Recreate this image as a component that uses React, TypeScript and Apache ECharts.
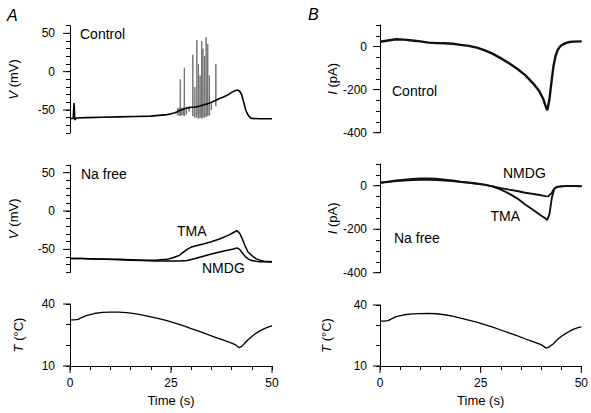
import React, { useEffect, useRef } from 'react';
import * as echarts from 'echarts';

const FONT = '"Liberation Sans", Arial, Helvetica, sans-serif';

// ---------- Panel A (top): Control membrane potential ----------
const ctlT = [0, 0.8, 1.0, 1.2, 1.6, 4, 8, 12, 16, 20, 22, 24, 25, 26, 27, 28, 29, 30, 31, 32, 33, 34, 35, 36, 37, 38, 39, 40, 41, 41.5, 42, 42.5, 43, 43.5, 44, 44.5, 45, 47, 50];
const ctlV = [-61, -61, -41, -63, -60.5, -60, -59.5, -59, -58.5, -58, -57, -56, -55, -53.5, -51, -49, -47.5, -46.5, -46, -45, -43.5, -42, -40, -37.5, -35, -33, -30.5, -27, -24.5, -24, -25.5, -30, -40, -50, -56, -59.5, -61, -61.5, -61.5];
// action potentials
const spikeT = [26.6, 27.0, 27.3, 27.7, 28.1, 28.3, 28.8, 29.5, 30.4, 30.9, 31.4, 31.8, 32.2, 32.6, 32.9, 33.3, 33.7, 34.1, 34.5, 35.0, 36.1];
const spikePeak = [-48, -47, -10, -47, -47, 5, -46, -45, 22, -20, 41, 10, -5, 40, 30, 20, 45, 36, -5, -40, 10];
const spikeTrough = [-57, -57, -58, -57, -57, -58, -56, -52, -58, -60, -60, -61, -60, -61, -60, -60, -59, -58, -57, -50, -45];

// ---------- Panel A (middle): Na free membrane potential ----------
const tmaT = [0, 3, 6, 9, 12, 15, 18, 21, 24, 25.5, 27, 28, 29, 30, 31, 33, 35, 37, 39, 40.5, 41.3, 42, 42.7, 43.3, 44, 45, 46, 47, 48, 50];
const tmaV = [-62, -62, -62.5, -63, -63, -63.5, -64, -64, -63, -61, -58, -54, -50, -47, -45.5, -43, -40, -36.5, -32, -28, -25.5, -29, -37, -45, -53, -58, -62, -64, -65.5, -66];
const nmdgT = [0, 3, 6, 9, 12, 15, 18, 21, 24, 27, 29, 31, 33, 35, 37, 39, 40.5, 41.3, 42, 42.7, 43.5, 44.3, 45, 46, 47, 48, 50];
const nmdgV = [-62, -62, -62.5, -63, -63.5, -64, -64.5, -65, -65, -65, -64.5, -62, -59, -56, -53.5, -51, -49.5, -48, -50, -55, -60, -63, -64.5, -65.5, -66, -66, -66.5];

// ---------- Temperature ----------
const tempAT = [0, 1, 2, 3, 4, 6, 8, 10, 12, 14, 16, 18, 20, 22, 24, 26, 28, 30, 32, 34, 36, 38, 40, 41, 41.8, 42.5, 43, 44, 45, 46, 47, 48, 49, 50];
const tempAV = [32.3, 32.3, 32.6, 33.5, 34.4, 35.4, 35.9, 36.1, 36.1, 35.8, 35.3, 34.6, 33.8, 32.9, 31.9, 30.8, 29.5, 28.1, 26.7, 25.3, 23.9, 22.5, 21.1, 20.2, 18.9, 19.5, 20.5, 22.6, 24.3, 25.8, 27, 28, 28.8, 29.4];
const tempBT = [0, 1, 2, 3, 4, 6, 8, 10, 12, 14, 16, 18, 20, 22, 24, 26, 28, 30, 32, 34, 36, 38, 40, 41.3, 42, 43, 44, 45, 46, 47, 48, 49, 50];
const tempBV = [32.1, 32.1, 32.3, 33.3, 34.3, 35.2, 35.6, 35.8, 35.9, 35.7, 35.2, 34.5, 33.6, 32.6, 31.6, 30.4, 29.1, 27.7, 26.3, 24.9, 23.4, 22, 20.5, 18.8, 19.4, 20.8, 22.9, 24.5, 25.8, 27, 28, 28.8, 29.3];

// ---------- Panel B (top): Control current ----------
const ctlIT = [0, 2, 4, 6, 8, 10, 12, 14, 16, 18, 20, 22, 24, 26, 28, 30, 32, 34, 36, 38, 39.5, 40.5, 41.2, 41.5, 42, 42.5, 43, 43.5, 44, 44.5, 45, 46, 47, 48, 50];
const ctlIV = [22, 28, 34, 32, 28, 24, 18, 16, 15, 13, 8, 3, -5, -18, -34, -55, -78, -103, -133, -172, -208, -245, -285, -295, -245, -165, -92, -45, -18, -3, 6, 16, 21, 23, 24];

// ---------- Panel B (middle): Na free current ----------
const tmaIT = [0, 2, 4, 6, 8, 10, 12, 14, 16, 18, 20, 22, 24, 26, 28, 30, 32, 34, 36, 38, 40, 41, 41.4, 42, 42.6, 43.2, 44, 45, 46, 48, 50];
const tmaIV = [14, 19, 24, 28, 31, 33, 34, 32, 28, 24, 19, 15, 10, 5, -4, -18, -36, -58, -86, -112, -138, -150, -158, -132, -55, -15, -4, -3, -2, -2, -3];
const nmdgIT = [0, 2, 4, 6, 8, 10, 12, 14, 16, 18, 20, 22, 24, 26, 28, 30, 32, 34, 36, 38, 40, 41, 41.7, 42.5, 43, 43.5, 44, 45, 46, 48, 50];
const nmdgIV = [14, 17, 21, 24, 26, 27, 27, 26, 24, 21, 17, 13, 9, 4, -3, -11, -18, -24, -32, -38, -44, -48, -49, -35, -18, -9, -5, -3, -2, -1, -2];

// ---------- Axis tick values ----------
const timeStep = 5;
const timeMajor = [0, 25, 50];
const vStep = 10;
const vMajor = [-50, 0, 50];
const iStep = 50;
const iMajor = [-400, -200, 0];
const tStep = 10;
const tMajor = [10, 40];

const zip = (t: number[], v: number[]) => t.map((x, i) => [x, v[i]]);

function spikePath() {
  const out: any[] = [];
  spikeT.forEach((t, i) => {
    out.push([t - 0.07, spikeTrough[i]]);
    out.push([t, spikePeak[i]]);
    out.push([t + 0.07, spikeTrough[i]]);
    out.push([t + 0.07, '-']);
  });
  return out;
}

const grids = [
  { left: 70, top: 25.7, width: 202, height: 107.3 },
  { left: 70, top: 165, width: 202, height: 107.4 },
  { left: 70, top: 304, width: 202, height: 62 },
  { left: 380, top: 25, width: 201.7, height: 107.7 },
  { left: 380, top: 164, width: 201.7, height: 108.7 },
  { left: 380, top: 305, width: 201.7, height: 61 },
];

const yRanges = [
  { min: -80, max: 60, step: vStep, major: vMajor, name: '{i|V} (mV)', gap: 50 },
  { min: -80, max: 60, step: vStep, major: vMajor, name: '{i|V} (mV)', gap: 50 },
  { min: 10, max: 40, step: tStep, major: tMajor, name: '{i|T} (°C)', gap: 45 },
  { min: -400, max: 100, step: iStep, major: iMajor, name: '{i|I} (pA)', gap: 12 },
  { min: -400, max: 100, step: iStep, major: iMajor, name: '{i|I} (pA)', gap: 12 },
  { min: 10, max: 40, step: tStep, major: tMajor, name: '{i|T} (°C)', gap: 47 },
];

const bottom = [false, false, true, false, false, true];

const notes = [
  { text: 'A', left: 7, top: 7, size: 16, italic: true },
  { text: 'B', left: 308, top: 6.5, size: 16, italic: true },
  { text: 'Control', left: 80, top: 26.5, size: 14, italic: false },
  { text: 'Na free', left: 81, top: 166.5, size: 14, italic: false },
  { text: 'TMA', left: 177, top: 224, size: 14, italic: false },
  { text: 'NMDG', left: 202, top: 261, size: 14, italic: false },
  { text: 'Control', left: 392, top: 84, size: 14, italic: false },
  { text: 'Na free', left: 394, top: 231, size: 14, italic: false },
  { text: 'NMDG', left: 503, top: 166, size: 14, italic: false },
  { text: 'TMA', left: 490.5, top: 208.5, size: 14, italic: false },
];

function buildOption() {
  const xAxis: any[] = grids.map((g, i) => ({
    type: 'value', gridIndex: i, min: 0, max: 50, interval: timeStep,
    show: bottom[i],
    axisLine: { show: true, onZero: false, lineStyle: { color: '#000', width: 1 } },
    axisTick: { show: true, length: 4, lineStyle: { color: '#000', width: 1 } },
    axisLabel: { show: true, customValues: timeMajor, margin: 11, fontSize: 12, color: '#000', fontFamily: FONT },
    splitLine: { show: false },
    name: bottom[i] ? 'Time (s)' : '',
    nameLocation: 'middle', nameGap: 28,
    nameTextStyle: { fontSize: 13, color: '#000', fontFamily: FONT },
  }));

  const yAxis: any[] = yRanges.map((r, i) => ({
    type: 'value', gridIndex: i, min: r.min, max: r.max, interval: r.step,
    axisLine: { show: true, onZero: false, lineStyle: { color: '#000', width: 1 } },
    axisTick: { show: true, length: 4, lineStyle: { color: '#000', width: 1 } },
    axisLabel: { show: true, customValues: r.major, margin: i >= 3 ? 13 : 15, fontSize: 12, color: '#000', fontFamily: FONT },
    splitLine: { show: false },
    name: r.name, nameLocation: 'middle', nameGap: r.gap,
    nameTextStyle: {
      fontSize: 13, color: '#000', fontFamily: FONT,
      rich: { i: { fontStyle: 'italic', fontSize: 13, color: '#000', fontFamily: FONT } },
    },
  }));

  const line = (data: any[], i: number, width: number, color = '#000') => ({
    type: 'line', xAxisIndex: i, yAxisIndex: i, data, showSymbol: false, symbol: 'none',
    connectNulls: false, lineStyle: { color, width },
  });

  // longer major tick marks, placed through the axes' own scales
  const majorTicks = (i: number, values: number[], dir: 'x' | 'y') => ({
    type: 'custom', xAxisIndex: i, yAxisIndex: i, clip: false,
    data: values.map((v) => (dir === 'y' ? [0, v] : [v, yRanges[i].min])),
    renderItem: (_p: any, api: any) => {
      const p = api.coord([api.value(0), api.value(1)]);
      const shape = dir === 'y'
        ? { x1: p[0], y1: p[1], x2: p[0] - 7, y2: p[1] }
        : { x1: p[0], y1: p[1], x2: p[0], y2: p[1] + 7 };
      return { type: 'line', shape, style: { stroke: '#000', lineWidth: 1 } };
    },
  });

  const series: any[] = [
    line(spikePath(), 0, 0.9, '#6a6a6a'),
    line(zip(ctlT, ctlV), 0, 1.6),
    line(zip(tmaT, tmaV), 1, 1.5),
    line(zip(nmdgT, nmdgV), 1, 1.5),
    line(zip(tempAT, tempAV), 2, 1.3),
    line(zip(ctlIT, ctlIV), 3, 2.4, '#111'),
    line(zip(tmaIT, tmaIV), 4, 1.9, '#111'),
    line(zip(nmdgIT, nmdgIV), 4, 1.9, '#111'),
    line(zip(tempBT, tempBV), 5, 1.3),
  ];
  yRanges.forEach((r, i) => {
    series.push(majorTicks(i, r.major, 'y'));
    if (bottom[i]) series.push(majorTicks(i, timeMajor, 'x'));
  });

  const title = notes.map((n) => ({
    text: n.text, left: n.left, top: n.top, padding: 0,
    textStyle: {
      fontSize: n.size, fontWeight: 'normal', fontStyle: n.italic ? 'italic' : 'normal',
      color: '#000', fontFamily: FONT,
    },
  }));

  return {
    animation: false,
    grid: grids,
    title,
    xAxis, yAxis, series,
  };
}

export default function App() {
  const ref = useRef<HTMLDivElement>(null);
  useEffect(() => {
    if (!ref.current) return;
    const chart = echarts.init(ref.current, undefined, { renderer: 'svg' });
    chart.setOption(buildOption() as any);
    return () => chart.dispose();
  }, []);
  return (
    <div
      ref={ref}
      style={{ position: 'fixed', left: 0, top: 0, width: 591, height: 413, background: '#fff' }}
    />
  );
}
